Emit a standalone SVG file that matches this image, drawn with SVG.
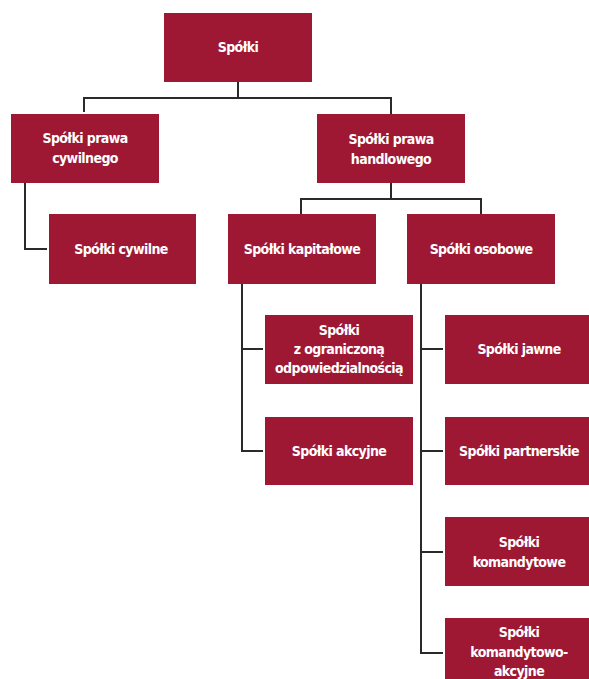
<svg xmlns="http://www.w3.org/2000/svg" width="589" height="679" viewBox="0 0 589 679">
<style>
.box{fill:#9e1834}
.t{font-family:"DejaVu Sans Condensed","DejaVu Sans",sans-serif;font-weight:bold;font-size:14px;fill:#ffffff;text-anchor:middle;dominant-baseline:central;letter-spacing:-0.6px}
.c{fill:none;stroke:#2a2a2a;stroke-width:2}
</style>
<rect width="589" height="679" fill="#ffffff"/>
<g id="connectors">
<path class="c" d="M238,82 V98 M84,112 V98 H391 V114"/>
<path class="c" d="M25,183 V249 H47"/>
<path class="c" d="M391,183 V199 M301,214 V199 H481 V214"/>
<path class="c" d="M242,284 V451 H263 M242,349 H263"/>
<path class="c" d="M421,284 V653 H443 M421,349 H443 M421,451 H443 M421,552 H443"/>
</g>
<g id="n-spolki"><rect class="box" x="164" y="13" width="148" height="69"/><text class="t" x="238" y="47">Spółki</text></g>
<g id="n-cywilnego"><rect class="box" x="11" y="114" width="148" height="69"/><text class="t" x="85" y="138">Spółki prawa</text><text class="t" x="85" y="158">cywilnego</text></g>
<g id="n-handlowego"><rect class="box" x="317" y="114" width="148" height="69"/><text class="t" x="391" y="139">Spółki prawa</text><text class="t" x="391" y="159">handlowego</text></g>
<g id="n-cywilne"><rect class="box" x="49" y="214" width="147" height="70"/><text class="t" x="121" y="249">Spółki cywilne</text></g>
<g id="n-kapitalowe"><rect class="box" x="228" y="214" width="148" height="70"/><text class="t" x="302" y="249">Spółki kapitałowe</text></g>
<g id="n-osobowe"><rect class="box" x="407" y="214" width="148" height="70"/><text class="t" x="481" y="249">Spółki osobowe</text></g>
<g id="n-zoo"><rect class="box" x="265" y="315" width="148" height="69"/><text class="t" x="339" y="330">Spółki</text><text class="t" x="339" y="349">z ograniczoną</text><text class="t" x="339" y="368">odpowiedzialnością</text></g>
<g id="n-akcyjne"><rect class="box" x="265" y="417" width="148" height="68"/><text class="t" x="339" y="451">Spółki akcyjne</text></g>
<g id="n-jawne"><rect class="box" x="445" y="315" width="148" height="69"/><text class="t" x="519" y="349">Spółki jawne</text></g>
<g id="n-partnerskie"><rect class="box" x="445" y="417" width="148" height="68"/><text class="t" x="519" y="451">Spółki partnerskie</text></g>
<g id="n-komandytowe"><rect class="box" x="445" y="517" width="148" height="69"/><text class="t" x="519" y="542">Spółki</text><text class="t" x="519" y="562">komandytowe</text></g>
<g id="n-ska"><rect class="box" x="445" y="618" width="148" height="69"/><text class="t" x="519" y="632">Spółki</text><text class="t" x="519" y="652">komandytowo-</text><text class="t" x="519" y="671">akcyjne</text></g>
</svg>
